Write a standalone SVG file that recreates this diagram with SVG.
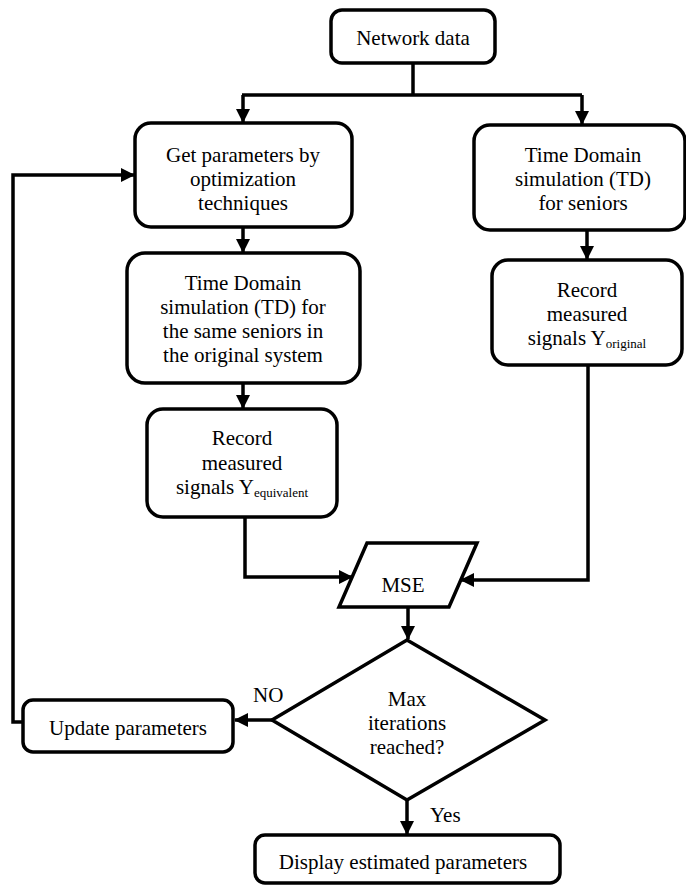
<svg xmlns="http://www.w3.org/2000/svg" width="686" height="886" viewBox="0 0 686 886">
<style>
.box{fill:#fff;stroke:#000;stroke-width:3.5}
text{font-family:'Liberation Serif','DejaVu Serif',serif;font-size:21px;fill:#000}
.t{text-anchor:middle}
.sub{font-size:13px}
.c{fill:none;stroke:#000;stroke-width:3.5}
</style>
<defs>
<marker id="ah" markerUnits="userSpaceOnUse" markerWidth="14" markerHeight="14" viewBox="0 0 14 14" refX="13" refY="7" orient="auto">
<path d="M0,0 L14,7 L0,14 Z" fill="#000"/>
</marker>
</defs>
<g id="connectors" font-family="Liberation Serif, DejaVu Serif, serif">
<path class="c" d="M413,63 V95"/>
<path class="c" d="M242,95 H582"/>
<path class="c" d="M243,95 V122" marker-end="url(#ah)"/>
<path class="c" d="M582,95 V124" marker-end="url(#ah)"/>
<path class="c" d="M243,227 V252" marker-end="url(#ah)"/>
<path class="c" d="M243,383 V408" marker-end="url(#ah)"/>
<path class="c" d="M587,230 V259" marker-end="url(#ah)"/>
<path class="c" d="M245,517 V577 H352" marker-end="url(#ah)"/>
<path class="c" d="M588,365 V580 H461" marker-end="url(#ah)"/>
<path class="c" d="M408,607 V639" marker-end="url(#ah)"/>
<path class="c" d="M272,720 H235" marker-end="url(#ah)"/>
<path class="c" d="M23,722 H13 V175 H134" marker-end="url(#ah)"/>
<path class="c" d="M407,800 V834" marker-end="url(#ah)"/>
<text x="253" y="702">NO</text>
<text x="430" y="822">Yes</text>
</g>
<g id="network-data">
<rect class="box" x="331" y="10" width="164" height="53" rx="11"/>
<text class="t" x="413" y="45">Network data</text>
</g>
<g id="get-parameters">
<rect class="box" x="135" y="123" width="217" height="104" rx="16"/>
<text class="t" x="243" y="162">Get parameters by</text>
<text class="t" x="243" y="186">optimization</text>
<text class="t" x="243" y="210">techniques</text>
</g>
<g id="td-equivalent">
<rect class="box" x="127" y="253" width="233" height="130" rx="18"/>
<text class="t" x="243" y="290">Time Domain</text>
<text class="t" x="243" y="314">simulation (TD) for</text>
<text class="t" x="243" y="338">the same seniors in</text>
<text class="t" x="243" y="362">the original system</text>
</g>
<g id="record-equivalent">
<rect class="box" x="147" y="409" width="190" height="108" rx="16"/>
<text class="t" x="242" y="445">Record</text>
<text class="t" x="242" y="470">measured</text>
<text class="t" x="242" y="494">signals Y<tspan class="sub" dy="3">equivalent</tspan></text>
</g>
<g id="td-original">
<rect class="box" x="474" y="125" width="211" height="105" rx="16"/>
<text class="t" x="583" y="162">Time Domain</text>
<text class="t" x="583" y="186">simulation (TD)</text>
<text class="t" x="583" y="210">for seniors</text>
</g>
<g id="record-original">
<rect class="box" x="492" y="260" width="190" height="105" rx="16"/>
<text class="t" x="587" y="297">Record</text>
<text class="t" x="587" y="321">measured</text>
<text class="t" x="587" y="345">signals Y<tspan class="sub" dy="3">original</tspan></text>
</g>
<g id="mse">
<polygon class="box" points="367,543 477,543 449,607 339,607"/>
<text class="t" x="403" y="592">MSE</text>
</g>
<g id="max-iterations">
<polygon class="box" points="407,640 545,720 407,800 272,720"/>
<text class="t" x="407" y="706">Max</text>
<text class="t" x="407" y="730">iterations</text>
<text class="t" x="407" y="754">reached?</text>
</g>
<g id="update-parameters">
<rect class="box" x="23" y="700" width="210" height="52" rx="10"/>
<text class="t" x="128" y="735">Update parameters</text>
</g>
<g id="display-parameters">
<rect class="box" x="255" y="835" width="305" height="48" rx="10"/>
<text class="t" x="403" y="869">Display estimated parameters</text>
</g>
</svg>
